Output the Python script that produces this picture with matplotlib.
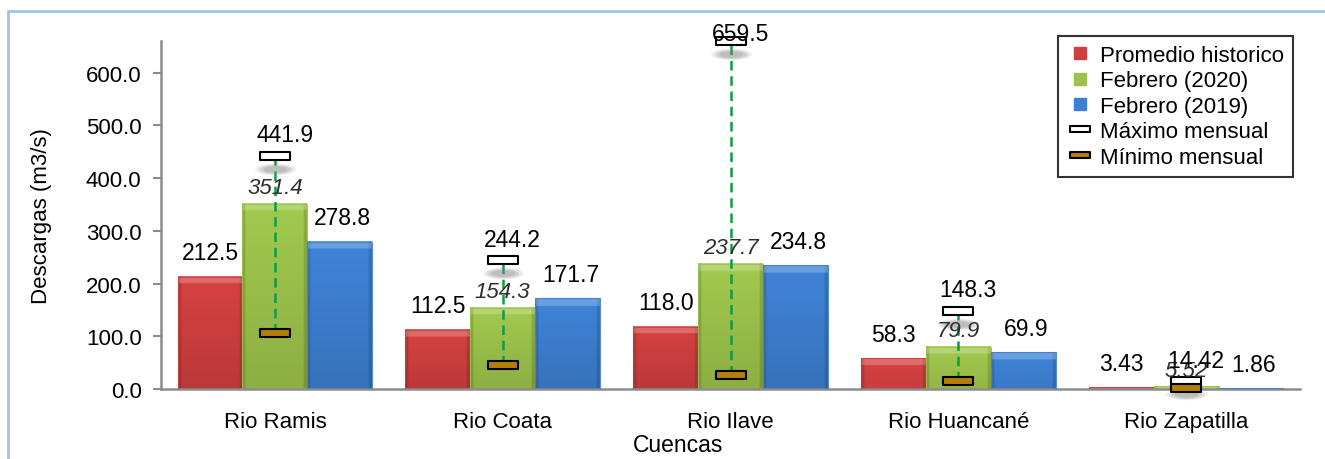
import numpy as np
import matplotlib
matplotlib.use("Agg")
import matplotlib.pyplot as plt
import matplotlib.colors as mcolors
import matplotlib.transforms as mtransforms
from matplotlib.path import Path
from matplotlib.lines import Line2D
from matplotlib.patches import Rectangle

# ==== Datos de descargas (m3/s) ====
cuencas = ["Rio Ramis", "Rio Coata", "Rio Ilave", "Rio Huancané", "Rio Zapatilla"]
promedio = [212.5, 112.5, 118.0, 58.3, 3.43]
feb_2020 = [351.4, 154.3, 237.7, 79.9, 5.52]
feb_2019 = [278.8, 171.7, 234.8, 69.9, 1.86]
maximo = [441.9, 244.2, 659.5, 148.3, 14.42]
minimo = [107.0, 46.0, 27.0, 15.5, 1.0]

series = [
    ("Promedio historico", promedio, "#cf3f3f"),
    ("Febrero (2020)", feb_2020, "#9cc24b"),
    ("Febrero (2019)", feb_2019, "#3d7fd0"),
]

plt.rcParams["font.family"] = ["Liberation Sans", "DejaVu Sans"]

W, H = 1325, 460
fig = plt.figure(figsize=(W / 100, H / 100), dpi=100)
ax = fig.add_axes([161 / W, 1 - 390 / H, (1300 - 161) / W, (390 - 42) / H])

YMAX = 660
ax.set_xlim(-0.5, len(cuencas) - 0.5)
ax.set_ylim(0, YMAX)

bar_w = 0.285
x = np.arange(len(cuencas))
px_per_unit = (ax.transData.transform((0, 100))[1] - ax.transData.transform((0, 0))[1]) / 100


def fmt(v):
    return f"{v:.2f}" if v < 20 else f"{v:.1f}"


# ==== Relleno con bisel para cada barra ====
def shade_bar(bar, color):
    x0, w, h = bar.get_x(), bar.get_width(), bar.get_height()
    if h <= 0:
        return
    base = np.array(mcolors.to_rgb(color))
    ny, nx = 80, 40
    h_px = max(h * px_per_unit, 1)
    depth = np.linspace(0, h_px, ny)[:, None]      # pixeles desde arriba
    xx = np.linspace(0, 1, nx)[None, :]
    shade = 1.04 - 0.14 * (depth / max(h_px, 60))
    shade = shade * np.ones((1, nx))
    side = np.minimum(xx, 1 - xx) * w * 228
    shade = np.where(side < 3, shade * 0.86, shade)
    img = base[None, None, :] * shade[:, :, None]
    top = (depth < 7) * np.ones((1, nx))
    img = np.where(top[:, :, None] > 0, img * 0.78 + 0.22, img)
    img = np.clip(img, 0, 1)
    ax.imshow(img, extent=(x0, x0 + w, 0, h), aspect="auto", origin="upper",
              interpolation="bilinear", zorder=2)


for i, (name, vals, color) in enumerate(series):
    bars = ax.bar(x + (i - 1) * bar_w, vals, bar_w, color="none",
                  edgecolor=mcolors.to_rgba(color, 0.9), linewidth=0.8, zorder=3)
    for b, v in zip(bars, vals):
        shade_bar(b, color)
        cx = b.get_x() + b.get_width() / 2
        if i == 1:
            ax.annotate(fmt(v), (cx, v), xytext=(0, 4), textcoords="offset points",
                        ha="center", va="bottom", fontsize=16, style="italic",
                        color="#2e2e2e", zorder=7)
        else:
            ax.annotate(fmt(v), (cx, v), xytext=(2 if i == 2 else 0, 9),
                        textcoords="offset points", ha="center", va="bottom",
                        fontsize=16.5, color="black", zorder=7)

ax.set_xlim(-0.5, len(cuencas) - 0.5)
ax.set_ylim(0, YMAX)

# ==== Máximo / mínimo mensual ====
rect = Path([(-1, -0.27), (1, -0.27), (1, 0.27), (-1, 0.27), (-1, -0.27)],
            [Path.MOVETO, Path.LINETO, Path.LINETO, Path.LINETO, Path.CLOSEPOLY])
ellipse = Path.unit_circle().transformed(mtransforms.Affine2D().scale(1, 0.28))

for xi, lo, hi in zip(x, minimo, maximo):
    ax.plot([xi, xi], [lo, hi], color="#0a9e45", lw=1.8, dashes=(3.8, 2.3),
            zorder=4, clip_on=False)

# sombra difusa bajo el marcador del máximo
shadow_tr = mtransforms.offset_copy(ax.transData, fig=fig, y=-13, units="dots")
for ms, a in [(30, 0.10), (26, 0.14), (22, 0.18), (17, 0.22)]:
    ax.plot(x, maximo, ls="none", marker=ellipse, ms=ms, mfc="#808080", mec="none",
            alpha=a, transform=shadow_tr, zorder=4, clip_on=False)

ax.plot(x, maximo, ls="none", marker=rect, ms=22, mfc="white", mec="black",
        mew=1.5, zorder=5, clip_on=False)
ax.plot(x, minimo, ls="none", marker=rect, ms=22, mfc="#b57d0c", mec="black",
        mew=1.5, zorder=5, clip_on=False)
for xi, hi in zip(x, maximo):
    # cerca del tope del eje la etiqueta baja sobre el marcador
    dy = -3 if hi > 0.95 * YMAX else 7
    ax.annotate(fmt(hi), (xi, hi), xytext=(7, dy), textcoords="offset points",
                ha="center", va="bottom", fontsize=16.5, zorder=7, annotation_clip=False)

# ==== Ejes ====
for s in ["top", "right"]:
    ax.spines[s].set_visible(False)
for s in ["left", "bottom"]:
    ax.spines[s].set_color("#8c8c8c")
    ax.spines[s].set_linewidth(1.8)
ax.set_yticks(np.arange(0, 601, 100))
ax.yaxis.set_major_formatter(matplotlib.ticker.FormatStrFormatter("%.1f"))
ax.tick_params(axis="y", length=6, width=1.5, color="#8c8c8c", pad=8, labelsize=16)
ax.set_xticks(x)
ax.set_xticklabels(cuencas)
ax.tick_params(axis="x", length=0, pad=16, labelsize=16)
ax.set_ylabel("Descargas (m3/s)", fontsize=16, labelpad=24)
fig.text(678 / W, 1 - 446 / H, "Cuencas", ha="center", va="center", fontsize=16.5)

# ==== Leyenda ====
handles = [Line2D([], [], ls="none", marker="s", ms=9, mfc=c, mec=c) for _, _, c in series]
handles += [
    Line2D([], [], ls="none", marker=rect, ms=14, mfc="white", mec="black", mew=1.5),
    Line2D([], [], ls="none", marker=rect, ms=14, mfc="#b57d0c", mec="black", mew=1.5),
]
labels = [s[0] for s in series] + ["Máximo mensual", "Mínimo mensual"]
leg = ax.legend(handles, labels, loc="upper right", bbox_to_anchor=(1293 / W, 1 - 37 / H),
                bbox_transform=fig.transFigure, borderaxespad=0, fontsize=16,
                frameon=True, fancybox=False, edgecolor="black", handlelength=1.2,
                handletextpad=0.3, labelspacing=0.2, borderpad=0.4)
leg.get_frame().set_linewidth(1.5)
leg.set_zorder(10)

# marco exterior
fig.patches.append(Rectangle((8 / W, -0.1), 1.2, 1.1 - 12 / H, transform=fig.transFigure,
                             fill=False, edgecolor="#9fc3e6", linewidth=2, clip_on=False))

fig.savefig("out.png", dpi=100)
